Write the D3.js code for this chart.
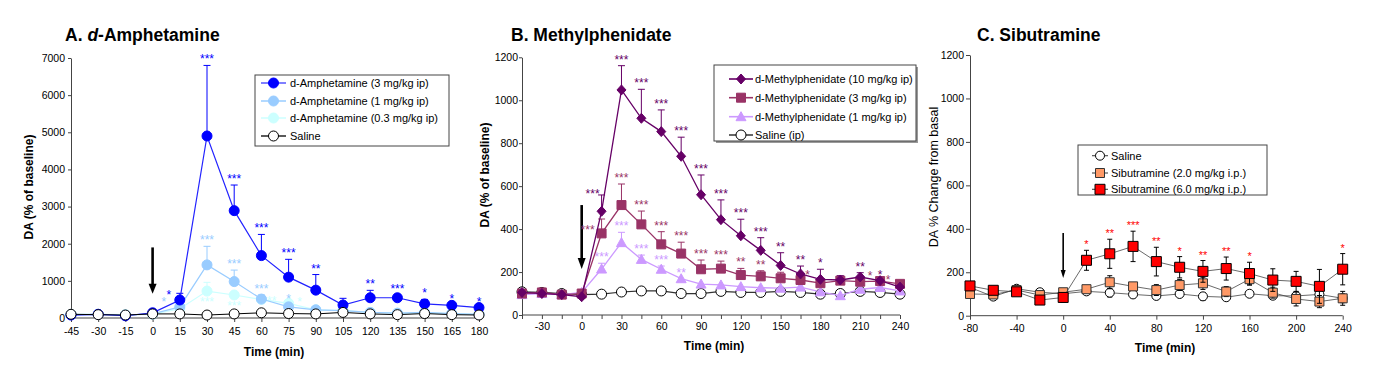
<!DOCTYPE html>
<html>
<head>
<meta charset="utf-8">
<script src="https://cdn.jsdelivr.net/npm/d3@7"></script>
<style>
  body { margin: 0; background: #fff; }
  text { font-family: "Liberation Sans", Arial, sans-serif; fill: #000; }
</style>
</head>
<body>
<div id="chart"></div>
<script>
// ---------- Panel A: d-Amphetamine ----------
const timesA = [-45, -30, -15, 0, 15, 30, 45, 60, 75, 90, 105, 120, 135, 150, 165, 180];
const amp3 = [80, 100, 60, 140, 485, 4900, 2890, 1680, 1100, 750, 350, 545, 545, 380, 340, 280];
const amp3Err = [0, 0, 0, 0, 180, 1900, 690, 570, 480, 420, 180, 200, 75, 120, 0, 0];
const amp3Sig = ["", "", "", "", "*", "***", "***", "***", "***", "**", "", "**", "***", "*", "*", "*"];
const amp1 = [90, 100, 80, 110, 300, 1430, 980, 510, 300, 220, 200, 150, 130, 150, 120, 100];
const amp1Err = [0, 0, 0, 0, 0, 500, 310, 110, 60, 0, 0, 0, 0, 0, 0, 0];
const amp1Sig = ["", "", "", "", "*", "***", "***", "***", "*", "", "", "", "", "", "", ""];
const amp03 = [100, 100, 90, 100, 250, 725, 620, 500, 395, 220, 200, 150, 130, 140, 120, 100];
const amp03Err = [0, 0, 0, 0, 0, 235, 0, 60, 50, 0, 0, 0, 0, 0, 0, 0];
const amp03Sig = ["", "", "", "", "", "***", "***", "***", "*", "", "", "", "", "", "", ""];
const salineA = [100, 90, 80, 110, 110, 80, 110, 140, 120, 110, 150, 110, 90, 120, 90, 80];
const yTicksA = [0, 1000, 2000, 3000, 4000, 5000, 6000, 7000];
const arrowA = [1900, 650];

// ---------- Panel B: Methylphenidate ----------
const timesB = [-45, -30, -15, 0, 15, 30, 45, 60, 75, 90, 105, 120, 135, 150, 165, 180, 195, 210, 225, 240];
const mph10 = [105, 100, 95, 85, 483, 1048, 916, 854, 739, 560, 444, 369, 301, 231, 191, 166, 163, 177, 160, 130];
const mph10Err = [0, 0, 0, 0, 76, 113, 135, 101, 89, 92, 92, 77, 59, 59, 37, 47, 20, 20, 0, 0];
const mph10Sig = ["", "", "", "", "***", "***", "***", "***", "***", "***", "***", "***", "***", "**", "**", "*", "", "**", "*", ""];
const mph3 = [100, 105, 95, 100, 380, 512, 422, 329, 286, 213, 216, 186, 180, 171, 163, 148, 160, 155, 158, 145];
const mph3Err = [0, 0, 0, 0, 67, 98, 62, 59, 53, 43, 35, 31, 26, 28, 23, 0, 0, 0, 0, 0];
const mph3Sig = ["", "", "", "", "***", "***", "***", "***", "***", "***", "***", "**", "**", "", "*", "", "", "*", "*", ""];
const mph1 = [95, 100, 95, 105, 214, 337, 259, 213, 169, 144, 140, 132, 127, 125, 130, 108, 90, 120, 128, 112];
const mph1Err = [0, 0, 0, 0, 27, 48, 20, 15, 0, 0, 0, 0, 0, 0, 0, 0, 0, 0, 0, 0];
const mph1Sig = ["", "", "", "", "***", "***", "***", "***", "**", "", "", "", "", "", "", "", "", "", "", ""];
const salineB = [108, 105, 100, 95, 97, 107, 112, 112, 100, 100, 110, 105, 105, 110, 105, 97, 100, 110, 105, 97];
const yTicksB = [0, 200, 400, 600, 800, 1000, 1200];
const xLabelsB = [-30, 0, 30, 60, 90, 120, 150, 180, 210, 240];
const arrowB = [512, 214];

// ---------- Panel C: Sibutramine ----------
const timesC = [-80, -60, -40, -20, 0, 20, 40, 60, 80, 100, 120, 140, 160, 180, 200, 220, 240];
const sib6 = [137, 117, 110, 72, 84, 255, 285, 319, 249, 223, 204, 217, 194, 164, 158, 135, 214];
const sib6Err = [15, 10, 10, 12, 22, 46, 67, 70, 66, 49, 50, 53, 52, 52, 46, 78, 72];
const sib6Sig = ["", "", "", "", "", "*", "**", "***", "**", "*", "**", "**", "*", "", "", "", "*"];
const sib2 = [100, 98, 118, 95, 108, 122, 154, 135, 118, 141, 149, 111, 168, 106, 77, 65, 80];
const sib2Err = [10, 10, 10, 10, 10, 15, 30, 15, 25, 25, 28, 23, 27, 25, 32, 28, 32];
const salineC = [130, 88, 124, 108, 101, 112, 106, 98, 91, 100, 89, 85, 101, 92, 91, 98, 80];
const salineCErr = [10, 10, 10, 10, 10, 10, 20, 15, 12, 15, 18, 15, 15, 12, 15, 15, 20];
const yTicksC = [0, 200, 400, 600, 800, 1000, 1200];
const xTicksC = [-80, -40, 0, 40, 80, 120, 160, 200, 240];
const arrowC = [381, 174];

const svg = d3.select("#chart").append("svg")
  .attr("width", 1391).attr("height", 377);

function markerPath(shape, s) {
  if (shape === "circle") return d3.symbol(d3.symbolCircle, Math.PI * s * s / 4)();
  if (shape === "square") return d3.symbol(d3.symbolSquare, s * s)();
  if (shape === "diamond") return `M0,${-s / 2}L${s * 0.45},0L0,${s / 2}L${-s * 0.45},0Z`;
  if (shape === "triangle") return `M0,${-s / 2}L${s / 2},${s * 0.4}L${-s / 2},${s * 0.4}Z`;
}

function drawPanel(p) {
  const g = svg.append("g");
  const x = d3.scaleLinear().domain(p.xDomain).range(p.xRange);
  const y = d3.scaleLinear().domain(p.yDomain).range(p.yRange);

  // axes
  const yAxis = g.append("g")
    .attr("transform", `translate(${p.xRange[0]},0)`)
    .call(d3.axisLeft(y).tickValues(p.yTicks).tickSize(p.yTickSize).tickSizeOuter(0)
      .tickPadding(p.yPad).tickFormat(d3.format("d")));
  const xAxis = g.append("g")
    .attr("transform", `translate(0,${p.yRange[0]})`)
    .call(d3.axisBottom(x).tickValues(p.xTicks).tickSize(4).tickSizeOuter(0).tickPadding(p.xPad)
      .tickFormat((d) => (p.xLabels.includes(d) ? d : "")));
  [yAxis, xAxis].forEach((a) => {
    a.selectAll("text").style("font-size", "10.5px").attr("fill", "#000");
    a.selectAll("line, path").attr("stroke", "#444");
  });
  xAxis.select(".domain").attr("d", `M${p.xRange[0]},0H${p.xRange[1] + p.xExtra}`);

  // title
  const t = g.append("text")
    .attr("x", p.titleX).attr("y", 41)
    .style("font-size", "17.5px").style("font-weight", "bold");
  p.title.forEach((part) => t.append("tspan").style("font-style", part.italic ? "italic" : "normal").text(part.text));

  // axis titles
  g.append("text")
    .attr("transform", `translate(${p.yLabelX},${p.yLabelY}) rotate(-90)`)
    .attr("text-anchor", "middle")
    .style("font-size", p.yLabelBold ? "12px" : "12.5px")
    .style("font-weight", p.yLabelBold ? "bold" : "normal")
    .text(p.yLabel);
  g.append("text")
    .attr("x", p.xLabelX).attr("y", p.xLabelY)
    .attr("text-anchor", "middle")
    .style("font-size", "12px").style("font-weight", "bold")
    .text("Time (min)");

  // injection arrow
  const ax = x(0), a0 = y(p.arrow[0]), a1 = y(p.arrow[1]);
  g.append("line").attr("x1", ax).attr("x2", ax).attr("y1", a0).attr("y2", a1 - p.arrowHead[1] + 1)
    .attr("stroke", "#000").attr("stroke-width", p.arrowWidth);
  g.append("path")
    .attr("d", `M${ax - p.arrowHead[0] / 2},${a1 - p.arrowHead[1]}L${ax + p.arrowHead[0] / 2},${a1 - p.arrowHead[1]}L${ax},${a1}Z`)
    .attr("fill", "#000");

  // series
  p.series.forEach((s) => {
    const pts = p.times.map((tm, i) => ({ t: tm, v: s.values[i], e: s.err ? s.err[i] : 0, sig: s.sig ? s.sig[i] : "" }));
    const eg = g.append("g");
    pts.filter((d) => d.e > 0).forEach((d) => {
      const lo = s.bothErr ? d.v - d.e : d.v;
      eg.append("line").attr("x1", x(d.t)).attr("x2", x(d.t)).attr("y1", y(lo)).attr("y2", y(d.v + d.e))
        .attr("stroke", s.errColor).attr("stroke-width", 1);
      eg.append("line").attr("x1", x(d.t) - p.cap).attr("x2", x(d.t) + p.cap)
        .attr("y1", y(d.v + d.e)).attr("y2", y(d.v + d.e))
        .attr("stroke", s.errColor).attr("stroke-width", 1);
      if (s.bothErr) {
        eg.append("line").attr("x1", x(d.t) - p.cap).attr("x2", x(d.t) + p.cap)
          .attr("y1", y(lo)).attr("y2", y(lo))
          .attr("stroke", s.errColor).attr("stroke-width", 1);
      }
    });
    g.append("path").datum(pts)
      .attr("fill", "none").attr("stroke", s.lineColor).attr("stroke-width", s.lineWidth)
      .attr("d", d3.line().x((d) => x(d.t)).y((d) => y(d.v)));
    g.selectAll(null).data(pts).enter().append("path")
      .attr("d", markerPath(s.shape, s.size))
      .attr("transform", (d) => `translate(${x(d.t)},${y(d.v)})`)
      .attr("fill", s.fill).attr("stroke", s.stroke).attr("stroke-width", 1);
    const off = (d) => (s.starOff && s.starOff[d.t]) || [0, 0];
    g.selectAll(null).data(pts.filter((d) => d.sig)).enter().append("text")
      .attr("x", (d) => x(d.t) + off(d)[0]).attr("text-anchor", "middle")
      .attr("y", (d) => (s.sigBelow ? y(d.v) + 15 : y(d.v + d.e) - 2) + off(d)[1])
      .style("font-size", p.starSize).style("fill", s.starColor)
      .text((d) => d.sig);
  });

  // legend
  const L = p.legend;
  if (L.shadow) {
    g.append("rect").attr("x", L.x + 2).attr("y", L.y + 2).attr("width", L.w).attr("height", L.h).attr("fill", "#999");
  }
  g.append("rect").attr("x", L.x).attr("y", L.y).attr("width", L.w).attr("height", L.h)
    .attr("fill", "#fff").attr("stroke", "#444").attr("stroke-width", 1);
  L.items.forEach((it, i) => {
    const s = p.series.find((d) => d.label === it);
    const ly = L.rows[i];
    g.append("line").attr("x1", L.lx[0]).attr("x2", L.lx[1]).attr("y1", ly).attr("y2", ly)
      .attr("stroke", s.legendLine || s.lineColor).attr("stroke-width", s.lineWidth + 0.3);
    g.append("path").attr("d", markerPath(s.shape, s.size))
      .attr("transform", `translate(${(L.lx[0] + L.lx[1]) / 2},${ly})`)
      .attr("fill", s.fill).attr("stroke", s.stroke).attr("stroke-width", 1);
    g.append("text").attr("x", L.tx).attr("y", ly).attr("dy", "0.36em")
      .style("font-size", "11px").text(it);
  });
}

drawPanel({
  xDomain: [-45, 180], xRange: [71, 479], yDomain: [0, 7000], yRange: [318, 58],
  yTicks: yTicksA, yTickSize: 3, yPad: 3, xTicks: timesA, xLabels: timesA, xPad: 6, xExtra: 4,
  title: [{ text: "A. " }, { text: "d", italic: true }, { text: "-Amphetamine" }], titleX: 65,
  yLabel: "DA (% of baseline)", yLabelBold: true, yLabelX: 33, yLabelY: 187,
  xLabelX: 274, xLabelY: 356,
  arrow: arrowA, arrowWidth: 2.6, arrowHead: [8, 10], cap: 3.5, starSize: "12px",
  times: timesA,
  series: [
    { label: "d-Amphetamine (0.3 mg/kg ip)", values: amp03, err: amp03Err, sig: amp03Sig, sigBelow: true,
      starOff: { 60: [8, -9], 75: [11, -12] },
      shape: "circle", size: 10, fill: "#CCFFFF", stroke: "#CCFFFF", lineColor: "#CCFFFF", errColor: "#CCFFFF",
      starColor: "#CCFFFF", lineWidth: 1.2 },
    { label: "d-Amphetamine (1 mg/kg ip)", values: amp1, err: amp1Err, sig: amp1Sig,
      starOff: { 15: [-16, 1] },
      shape: "circle", size: 10, fill: "#99CCFF", stroke: "#99CCFF", lineColor: "#99CCFF", errColor: "#99CCFF",
      starColor: "#99CCFF", lineWidth: 1.2 },
    { label: "d-Amphetamine (3 mg/kg ip)", values: amp3, err: amp3Err, sig: amp3Sig,
      starOff: { 15: [-11, 8] },
      shape: "circle", size: 10, fill: "#0000FF", stroke: "#0000FF", lineColor: "#2222FF", errColor: "#0000FF",
      starColor: "#0000FF", lineWidth: 1.2, legendLine: "#5555FF" },
    { label: "Saline", values: salineA,
      shape: "circle", size: 10, fill: "#fff", stroke: "#000", lineColor: "#000", errColor: "#000",
      starColor: "#000", lineWidth: 1 }
  ],
  legend: { x: 255, y: 75, w: 194, h: 71, rows: [83, 101, 118, 136], lx: [261, 286], tx: 290,
    items: ["d-Amphetamine (3 mg/kg ip)", "d-Amphetamine (1 mg/kg ip)", "d-Amphetamine (0.3 mg/kg ip)", "Saline"] }
});

drawPanel({
  xDomain: [-45, 240], xRange: [522, 900], yDomain: [0, 1200], yRange: [315, 57.3],
  yTicks: yTicksB, yTickSize: 3, yPad: 1, xTicks: timesB, xLabels: xLabelsB, xPad: 4, xExtra: 0,
  title: [{ text: "B. Methylphenidate" }], titleX: 511,
  yLabel: "DA (% of baseline)", yLabelBold: true, yLabelX: 489, yLabelY: 175,
  xLabelX: 714, xLabelY: 350,
  arrow: arrowB, arrowWidth: 2.6, arrowHead: [8, 11], cap: 3.5, starSize: "12px",
  times: timesB,
  series: [
    { label: "Saline (ip)", values: salineB,
      shape: "circle", size: 10, fill: "#fff", stroke: "#000", lineColor: "#333", errColor: "#333",
      starColor: "#000", lineWidth: 1.2 },
    { label: "d-Methylphenidate (1 mg/kg ip)", values: mph1, err: mph1Err, sig: mph1Sig,
      shape: "triangle", size: 10, fill: "#CC99FF", stroke: "#CC99FF", lineColor: "#CC99FF", errColor: "#CC99FF",
      starColor: "#CC99FF", lineWidth: 1.3 },
    { label: "d-Methylphenidate (3 mg/kg ip)", values: mph3, err: mph3Err, sig: mph3Sig,
      starOff: { 15: [-14, 17], 165: [7, 6], 210: [10, 0], 225: [8, 5] },
      shape: "square", size: 9, fill: "#993366", stroke: "#993366", lineColor: "#993366", errColor: "#993366",
      starColor: "#993366", lineWidth: 1.3 },
    { label: "d-Methylphenidate (10 mg/kg ip)", values: mph10, err: mph10Err, sig: mph10Sig,
      starOff: { 15: [-9, 5] },
      shape: "diamond", size: 10, fill: "#660066", stroke: "#660066", lineColor: "#660066", errColor: "#660066",
      starColor: "#660066", lineWidth: 1.3 }
  ],
  legend: { x: 714, y: 65, w: 202, h: 76, shadow: true, rows: [79, 97.7, 116.7, 135], lx: [729, 753], tx: 755,
    items: ["d-Methylphenidate (10 mg/kg ip)", "d-Methylphenidate (3 mg/kg ip)", "d-Methylphenidate (1 mg/kg ip)", "Saline (ip)"] }
});

drawPanel({
  xDomain: [-80, 240], xRange: [970, 1342.7], yDomain: [0, 1200], yRange: [315.7, 55],
  yTicks: yTicksC, yTickSize: 4, yPad: 2, xTicks: xTicksC, xLabels: xTicksC, xPad: 5, xExtra: 0,
  title: [{ text: "C. Sibutramine" }], titleX: 977,
  yLabel: "DA % Change from basal", yLabelBold: false, yLabelX: 938, yLabelY: 177,
  xLabelX: 1165, xLabelY: 352,
  arrow: arrowC, arrowWidth: 1.6, arrowHead: [5, 8], cap: 2.5, starSize: "11px",
  times: timesC,
  series: [
    { label: "Saline", values: salineC, err: salineCErr, bothErr: true,
      shape: "circle", size: 9, fill: "#fff", stroke: "#000", lineColor: "#444", errColor: "#000",
      starColor: "#000", lineWidth: 0.8 },
    { label: "Sibutramine (2.0 mg/kg i.p.)", values: sib2, err: sib2Err, bothErr: true,
      shape: "square", size: 9, fill: "#FF9966", stroke: "#333", lineColor: "#444", errColor: "#000",
      starColor: "#FF0000", lineWidth: 0.8 },
    { label: "Sibutramine (6.0 mg/kg i.p.)", values: sib6, err: sib6Err, sig: sib6Sig, bothErr: true,
      shape: "square", size: 10, fill: "#FF0000", stroke: "#000", lineColor: "#444", errColor: "#000",
      starColor: "#FF0000", lineWidth: 0.8 }
  ],
  legend: { x: 1078, y: 145, w: 189, h: 50, rows: [155.7, 173, 189.3], lx: [1092, 1108], tx: 1111,
    items: ["Saline", "Sibutramine (2.0 mg/kg i.p.)", "Sibutramine (6.0 mg/kg i.p.)"] }
});
</script>
</body>
</html>
